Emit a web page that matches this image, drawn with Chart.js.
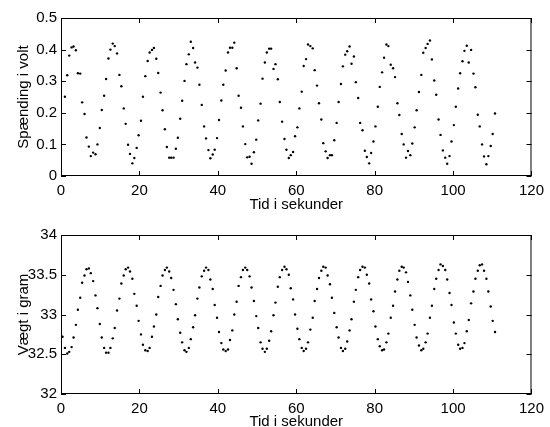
<!DOCTYPE html>
<html>
<head>
<meta charset="utf-8">
<script src="https://cdn.jsdelivr.net/npm/chart.js@4"></script>
<style>
  html, body { margin: 0; padding: 0; background: #fff; width: 550px; height: 427px; overflow: hidden; position: relative; }
  canvas { position: absolute; left: 0; }
  #top { top: 0; }
  #bottom { top: 217px; }
</style>
</head>
<body>
<canvas id="top" width="550" height="230"></canvas>
<canvas id="bottom" width="550" height="230"></canvas>
<script>
const timeTop = [
  1.0,1.6,2.1,2.7,3.2,3.8,4.3,4.9,5.4,6.0,
  6.5,7.1,7.6,8.2,8.8,9.3,9.9,10.4,11.0,11.5,
  12.1,12.6,13.2,13.7,14.3,14.9,15.4,16.0,16.5,17.1,
  17.6,18.2,18.7,19.3,19.8,20.4,20.9,21.5,22.1,22.6,
  23.2,23.7,24.3,24.8,25.4,25.9,26.5,27.0,27.6,28.1,
  28.7,29.3,29.8,30.4,30.9,31.5,32.0,32.6,33.1,33.7,
  34.2,34.8,35.3,35.9,36.5,37.0,37.6,38.1,38.7,39.2,
  39.8,40.3,40.9,41.4,42.0,42.6,43.1,43.7,44.2,44.8,
  45.3,45.9,46.4,47.0,47.5,48.1,48.6,49.2,49.8,50.3,
  50.9,51.4,52.0,52.5,53.1,53.6,54.2,54.7,55.3,55.8,
  56.4,57.0,57.5,58.1,58.6,59.2,59.7,60.3,60.8,61.4,
  61.9,62.5,63.0,63.6,64.2,64.7,65.3,65.8,66.4,66.9,
  67.5,68.0,68.6,69.1,69.7,70.3,70.8,71.4,71.9,72.5,
  73.0,73.6,74.1,74.7,75.2,75.8,76.3,76.9,77.5,78.0,
  78.6,79.1,79.7,80.2,80.8,81.3,81.9,82.4,83.0,83.5,
  84.1,84.7,85.2,85.8,86.3,86.9,87.4,88.0,88.5,89.1,
  89.6,90.2,90.7,91.3,91.9,92.4,93.0,93.5,94.1,94.6,
  95.2,95.7,96.3,96.8,97.4,98.0,98.5,99.1,99.6,100.2,
  100.7,101.3,101.8,102.4,102.9,103.5,104.0,104.6,105.2,105.7,
  106.3,106.8,107.4,107.9,108.5,109.0,109.6,110.1,110.7
];
// the weight plot has one extra sample at the start
const timeBottom = [0.4, ...timeTop];

// Spænding i volt
const voltage = [
  .251,.319,.381,.407,.410,.398,.325,.324,.233,.196,
  .122,.093,.063,.074,.069,.100,.152,.209,.254,.307,
  .372,.400,.419,.411,.388,.320,.284,.214,.165,.099,
  .070,.040,.057,.089,.129,.175,.251,.316,.364,.391,
  .399,.405,.371,.326,.264,.208,.148,.092,.058,.058,
  .058,.086,.121,.181,.238,.301,.354,.385,.425,.405,
  .359,.343,.289,.225,.157,.119,.082,.056,.068,.083,
  .120,.177,.239,.289,.334,.391,
  .406,.406,.422,.341,.254,.216,.157,.101,.059,.061,
  .039,.075,.115,.176,.229,.308,.359,.391,.403,.403,
  .339,.354,.306,.234,.172,.117,.083,.057,.066,.076,
  .126,.154,.214,.267,.348,.370,.416,.411,.404,.335,
  .286,.230,.179,.104,.078,.057,.066,.066,.113,.168,
  .234,.291,.347,.384,.395,.410,.355,.378,.297,.247,
  .168,.145,.080,.060,.040,.073,.109,.157,.219,.282,
  .328,.374,.416,.411,.352,
  .341,.313,.230,.193,.133,.100,.058,.079,.066,.103,
  .154,.208,.266,.320,.390,.405,.418,.429,.369,.302,
  .257,.179,.130,.081,.058,.039,.063,.109,.161,.219,
  .277,.325,.363,.396,.412,.359,.399,.324,.281,.194,
  .157,.100,.062,.037,.063,.095,.133,.198
];

// Vægt i gram
const weight = [
  32.72,32.58,32.51,32.53,32.59,32.71,32.87,33.06,33.21,33.40,
  33.49,33.57,33.58,33.52,33.42,33.24,33.08,32.88,32.71,32.58,
  32.52,32.52,32.58,32.70,32.83,33.05,33.20,33.39,33.49,33.57,
  33.59,33.54,33.45,33.26,33.11,32.92,32.75,32.62,32.55,32.54,
  32.58,32.72,32.85,33.00,33.22,33.36,33.49,33.56,33.59,33.54,
  33.46,33.31,33.13,32.94,32.77,32.65,32.55,32.53,32.58,32.69,
  32.84,32.99,33.20,33.34,33.48,33.55,33.59,33.56,33.44,33.32,
  33.12,32.96,32.78,32.64,32.56,32.54,32.56,
  32.68,32.80,33.00,33.16,33.36,33.47,33.56,33.59,33.56,33.48,
  33.34,33.17,32.98,32.83,32.65,32.57,32.53,32.57,32.67,32.79,
  32.99,33.15,33.35,33.47,33.56,33.60,33.57,33.50,33.33,33.19,
  33.00,32.82,32.69,32.58,32.54,32.57,32.65,32.81,32.96,33.17,
  33.32,33.46,33.55,33.60,33.59,33.49,33.38,33.21,33.02,32.84,
  32.71,32.58,32.54,32.57,32.66,32.80,32.94,33.16,33.31,33.47,
  33.56,33.60,33.59,33.50,33.39,33.19,33.04,32.85,32.69,32.60,
  32.55,32.56,32.65,32.76,32.96,
  33.11,33.29,33.44,33.55,33.60,33.59,33.53,33.41,33.24,33.06,
  32.87,32.71,32.61,32.55,32.57,32.65,32.76,32.96,33.11,33.32,
  33.45,33.56,33.63,33.61,33.56,33.44,33.27,33.12,32.90,32.76,
  32.62,32.57,32.58,32.64,32.79,32.93,33.14,33.29,33.45,33.55,
  33.62,33.63,33.55,33.45,33.29,33.10,32.92,32.78
];

const xLabel = 'Tid i sekunder';
const xMin = 0, xMax = 120, xStep = 20;

const font = { family: 'Liberation Sans, Arial, sans-serif', size: 15 };

// matlab style box with short inward ticks on all four sides
const boxTicks = {
  id: 'boxTicks',
  afterDraw(chart) {
    const { ctx, chartArea: a, scales } = chart;
    const len = 5;
    ctx.save();
    ctx.strokeStyle = '#000';
    ctx.lineWidth = 1;
    ctx.beginPath();
    ctx.rect(a.left + 0.5, a.top + 0.5, a.right - a.left - 1, a.bottom - a.top - 1);
    scales.x.ticks.forEach(t => {
      const px = Math.round(scales.x.getPixelForValue(t.value)) + 0.5;
      ctx.moveTo(px, a.bottom); ctx.lineTo(px, a.bottom - len);
      ctx.moveTo(px, a.top); ctx.lineTo(px, a.top + len);
    });
    scales.y.ticks.forEach(t => {
      const py = Math.round(scales.y.getPixelForValue(t.value)) + 0.5;
      ctx.moveTo(a.left, py); ctx.lineTo(a.left + len, py);
      ctx.moveTo(a.right, py); ctx.lineTo(a.right - len, py);
    });
    ctx.stroke();
    ctx.restore();
  }
};

// plain numbers like matlab: 32, 32.5, 0.1
const plainNum = v => String(Number(v.toFixed(3)));

function makePlot(id, xs, ys, yMin, yMax, yStep, yLabel, xAxisHeight) {
  const pts = xs.map((x, i) => ({ x: x, y: ys[i] }));
  return new Chart(document.getElementById(id), {
    type: 'scatter',
    data: {
      datasets: [{
        data: pts,
        pointRadius: 1.2,
        pointBorderWidth: 0,
        pointBackgroundColor: '#000',
        pointHoverRadius: 1.2
      }]
    },
    options: {
      responsive: false,
      animation: false,
      devicePixelRatio: 1,
      layout: { padding: { top: 18, right: 13, left: 0, bottom: 0 } },
      plugins: { legend: { display: false }, tooltip: { enabled: false } },
      scales: {
        x: {
          type: 'linear', min: xMin, max: xMax,
          afterFit: s => { s.height = xAxisHeight; },
          border: { display: false },
          grid: { display: false, drawTicks: false },
          ticks: { stepSize: xStep, color: '#000', font: font, padding: 6, maxRotation: 0, callback: plainNum },
          title: { display: true, text: xLabel, color: '#000', font: font, padding: { top: 0, bottom: 16 } }
        },
        y: {
          min: yMin, max: yMax,
          afterFit: s => { s.width = 61; },
          border: { display: false },
          grid: { display: false, drawTicks: false },
          ticks: { stepSize: yStep, color: '#000', font: font, padding: 4, callback: plainNum },
          title: { display: true, text: yLabel, color: '#000', font: font, padding: { top: 15, bottom: 0 } }
        }
      }
    },
    plugins: [boxTicks]
  });
}

makePlot('top', timeTop, voltage, 0, 0.5, 0.1, 'Spænding i volt', 54);
makePlot('bottom', timeBottom, weight, 32, 34, 0.5, 'Vægt i gram', 53);
</script>
</body>
</html>
